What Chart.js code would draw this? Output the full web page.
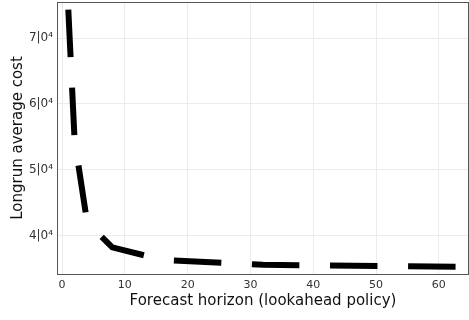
<!DOCTYPE html>
<html>
<head>
<meta charset="utf-8">
<script src="https://cdn.jsdelivr.net/npm/chart.js@4"></script>
<style>
  html, body { margin: 0; padding: 0; background: #fff; }
  #wrap { width: 469px; height: 320px; }
</style>
</head>
<body>
<div id="wrap"><canvas id="lineChart"></canvas></div>
<script>
// forecast horizon vs longrun average cost
var horizons = [1, 2, 4, 8, 16, 32, 64];
var avgCost = [74300, 54500, 42000, 38200, 36300, 35550, 35250];
var xTicks = [0, 10, 20, 30, 40, 50, 60];
var yTicks = [40000, 50000, 60000, 70000];
var yTickLabels = ['4|0\u2074', '5|0\u2074', '6|0\u2074', '7|0\u2074'];

var points = horizons.map(function (h, i) { return { x: h, y: avgCost[i] }; });

// thin frame round the plot area
var frame = {
    id: 'frame',
    afterDraw: function (chart) {
        var a = chart.chartArea, c = chart.ctx;
        c.save();
        c.strokeStyle = '#555';
        c.lineWidth = 1;
        c.strokeRect(a.left + 0.5, a.top + 0.5, a.right - a.left - 1, a.bottom - a.top);
        c.restore();
    }
};

var ctx = document.getElementById('lineChart').getContext('2d');
var myChart = new Chart(ctx, {
    type: 'line',
    data: {
        datasets: [{
            data: points,
            borderColor: '#000',
            borderWidth: 6,
            borderDash: [47.5, 30.6],
            borderDashOffset: 0,
            borderCapStyle: 'butt',
            pointRadius: 0,
            tension: 0,
            fill: false
        }]
    },
    options: {
        responsive: true,
        maintainAspectRatio: false,
        animation: false,
        layout: { padding: { top: 2, right: 0, bottom: 0, left: 0 } },
        plugins: { legend: { display: false }, tooltip: { enabled: false } },
        scales: {
            x: {
                type: 'linear',
                min: -0.8,
                max: 64.8,
                afterBuildTicks: function (s) { s.ticks = xTicks.map(function (v) { return { value: v }; }); },
                afterFit: function (s) { s.height = 46; s.paddingLeft = 0; s.paddingRight = 0; },
                grid: { color: '#ebebeb', drawTicks: false },
                border: { color: '#444' },
                ticks: { color: '#333', font: { family: 'DejaVu Sans', size: 11 }, padding: 5, maxRotation: 0 },
                title: { display: true, text: 'Forecast horizon (lookahead policy)', color: '#111',
                         font: { family: 'DejaVu Sans', size: 15 }, padding: { top: 0, bottom: 10 } }
            },
            y: {
                type: 'linear',
                min: 34160,
                max: 75470,
                afterBuildTicks: function (s) { s.ticks = yTicks.map(function (v) { return { value: v }; }); },
                afterFit: function (s) { s.width = 57; s.paddingTop = 0; s.paddingBottom = 0; },
                grid: { color: '#ebebeb', drawTicks: false },
                border: { color: '#444' },
                ticks: {
                    color: '#333', font: { family: 'DejaVu Sans', size: 12 }, padding: 4,
                    callback: function (v) { var i = yTicks.indexOf(v); return i < 0 ? '' : yTickLabels[i]; }
                },
                title: { display: true, text: 'Longrun average cost', color: '#111',
                         font: { family: 'DejaVu Sans', size: 15 }, padding: { top: 9, bottom: 0 } }
            }
        }
    },
    plugins: [frame]
});
</script>
</body>
</html>
